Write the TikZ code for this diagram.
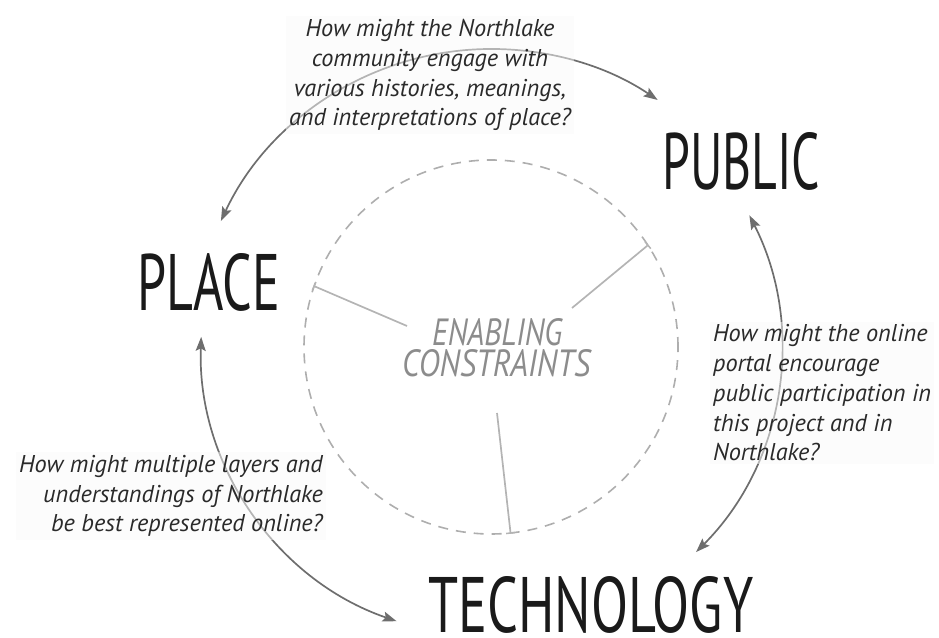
\documentclass[tikz,border=0pt]{standalone}
\usepackage{fontspec}
\usepackage{graphicx}
\setmainfont{PT Sans}
\usetikzlibrary{arrows.meta,calc}
\definecolor{arrowgray}{HTML}{6E6E6E}
\definecolor{spokegray}{HTML}{B4B4B4}
\definecolor{circgray}{HTML}{AEAEAE}
\definecolor{ecgray}{HTML}{8C8C8C}
\definecolor{textdark}{HTML}{2A2A2A}
\definecolor{labeldark}{HTML}{1A1A1A}
\begin{document}
\begin{tikzpicture}[x=1pt,y=1pt,
  cyclearrow/.style={draw=arrowgray,line width=1.7pt,
    {Stealth[length=14pt,width=10pt,inset=2.5pt]}-{Stealth[length=14pt,width=10pt,inset=2.5pt]}},
  spoke/.style={draw=spokegray,line width=1.7pt,-{Bar[width=9pt,line width=1.5pt]}},
  bigword/.style={inner sep=0pt,anchor=base west,text=labeldark,font=\fontsize{60}{60}\selectfont},
  ecword/.style={inner sep=0pt,anchor=base west,text=ecgray,font=\fontsize{30}{30}\selectfont\itshape},
  question/.style={inner sep=3pt,text=textdark,fill=black!2,fill opacity=0.5,text opacity=1,
    font=\fontsize{24.3}{29.8}\selectfont\itshape}
]
\useasboundingbox (0,0) rectangle (939,637);
\coordinate (c) at (491,290);

% dashed circle
\node (circ) [circle,draw=circgray,line width=1.6pt,dash pattern=on 10pt off 8pt,
  minimum size=374pt,inner sep=0pt] at (c) {};

% enabling constraints
\node[ecword] (en) at (432,291) {\resizebox{130pt}{27pt}{ENABLING}};
\node[ecword] (co) at (402,260) {\resizebox{188pt}{27pt}{CONSTRAINTS}};

% spokes
\coordinate (s1) at (407,311);
\coordinate (s2) at (572,329);
\coordinate (s3) at (497,224);
\draw[spoke] (s1) -- (circ.161.5);
\draw[spoke] (s2) -- (circ.33.8);
\draw[spoke] (s3) -- (circ.-84.8);

% big labels
\node[bigword] (public) at (662,447) {\resizebox{158pt}{57pt}{PUBLIC}};
\node[bigword] (place) at (137,326) {\resizebox{143pt}{57pt}{PLACE}};
\node[bigword] (tech) at (428,5) {\resizebox{325pt}{56pt}{TECHNOLOGY}};

% cycle arrows (arcs around the circle centre)
\coordinate (t1) at ($(c)+(155:298)$);
\coordinate (r1) at ($(c)+(27:290)$);
\coordinate (b1) at ($(c)+(178:290)$);
\draw[cyclearrow] (t1) arc[start angle=155,end angle=56,radius=298pt];
\draw[cyclearrow] (r1) arc[start angle=27,end angle=-45,radius=290pt];
\draw[cyclearrow] (b1) arc[start angle=178,end angle=251,radius=290pt];

% questions (base anchor = baseline of the last line)
\node[question,align=center,anchor=base] (q1) at (430,511)
  {How might the Northlake\\community engage with\\various histories, meanings,\\and interpretations of place?};
\node[question,align=left,anchor=base west] (q2) at (710,176)
  {How might the online\\portal encourage\\public participation in\\this project and in\\Northlake?};
\node[question,align=right,anchor=base east] (q3) at (326,105)
  {How might multiple layers and\\understandings of Northlake\\be best represented online?};
\end{tikzpicture}
\end{document}
